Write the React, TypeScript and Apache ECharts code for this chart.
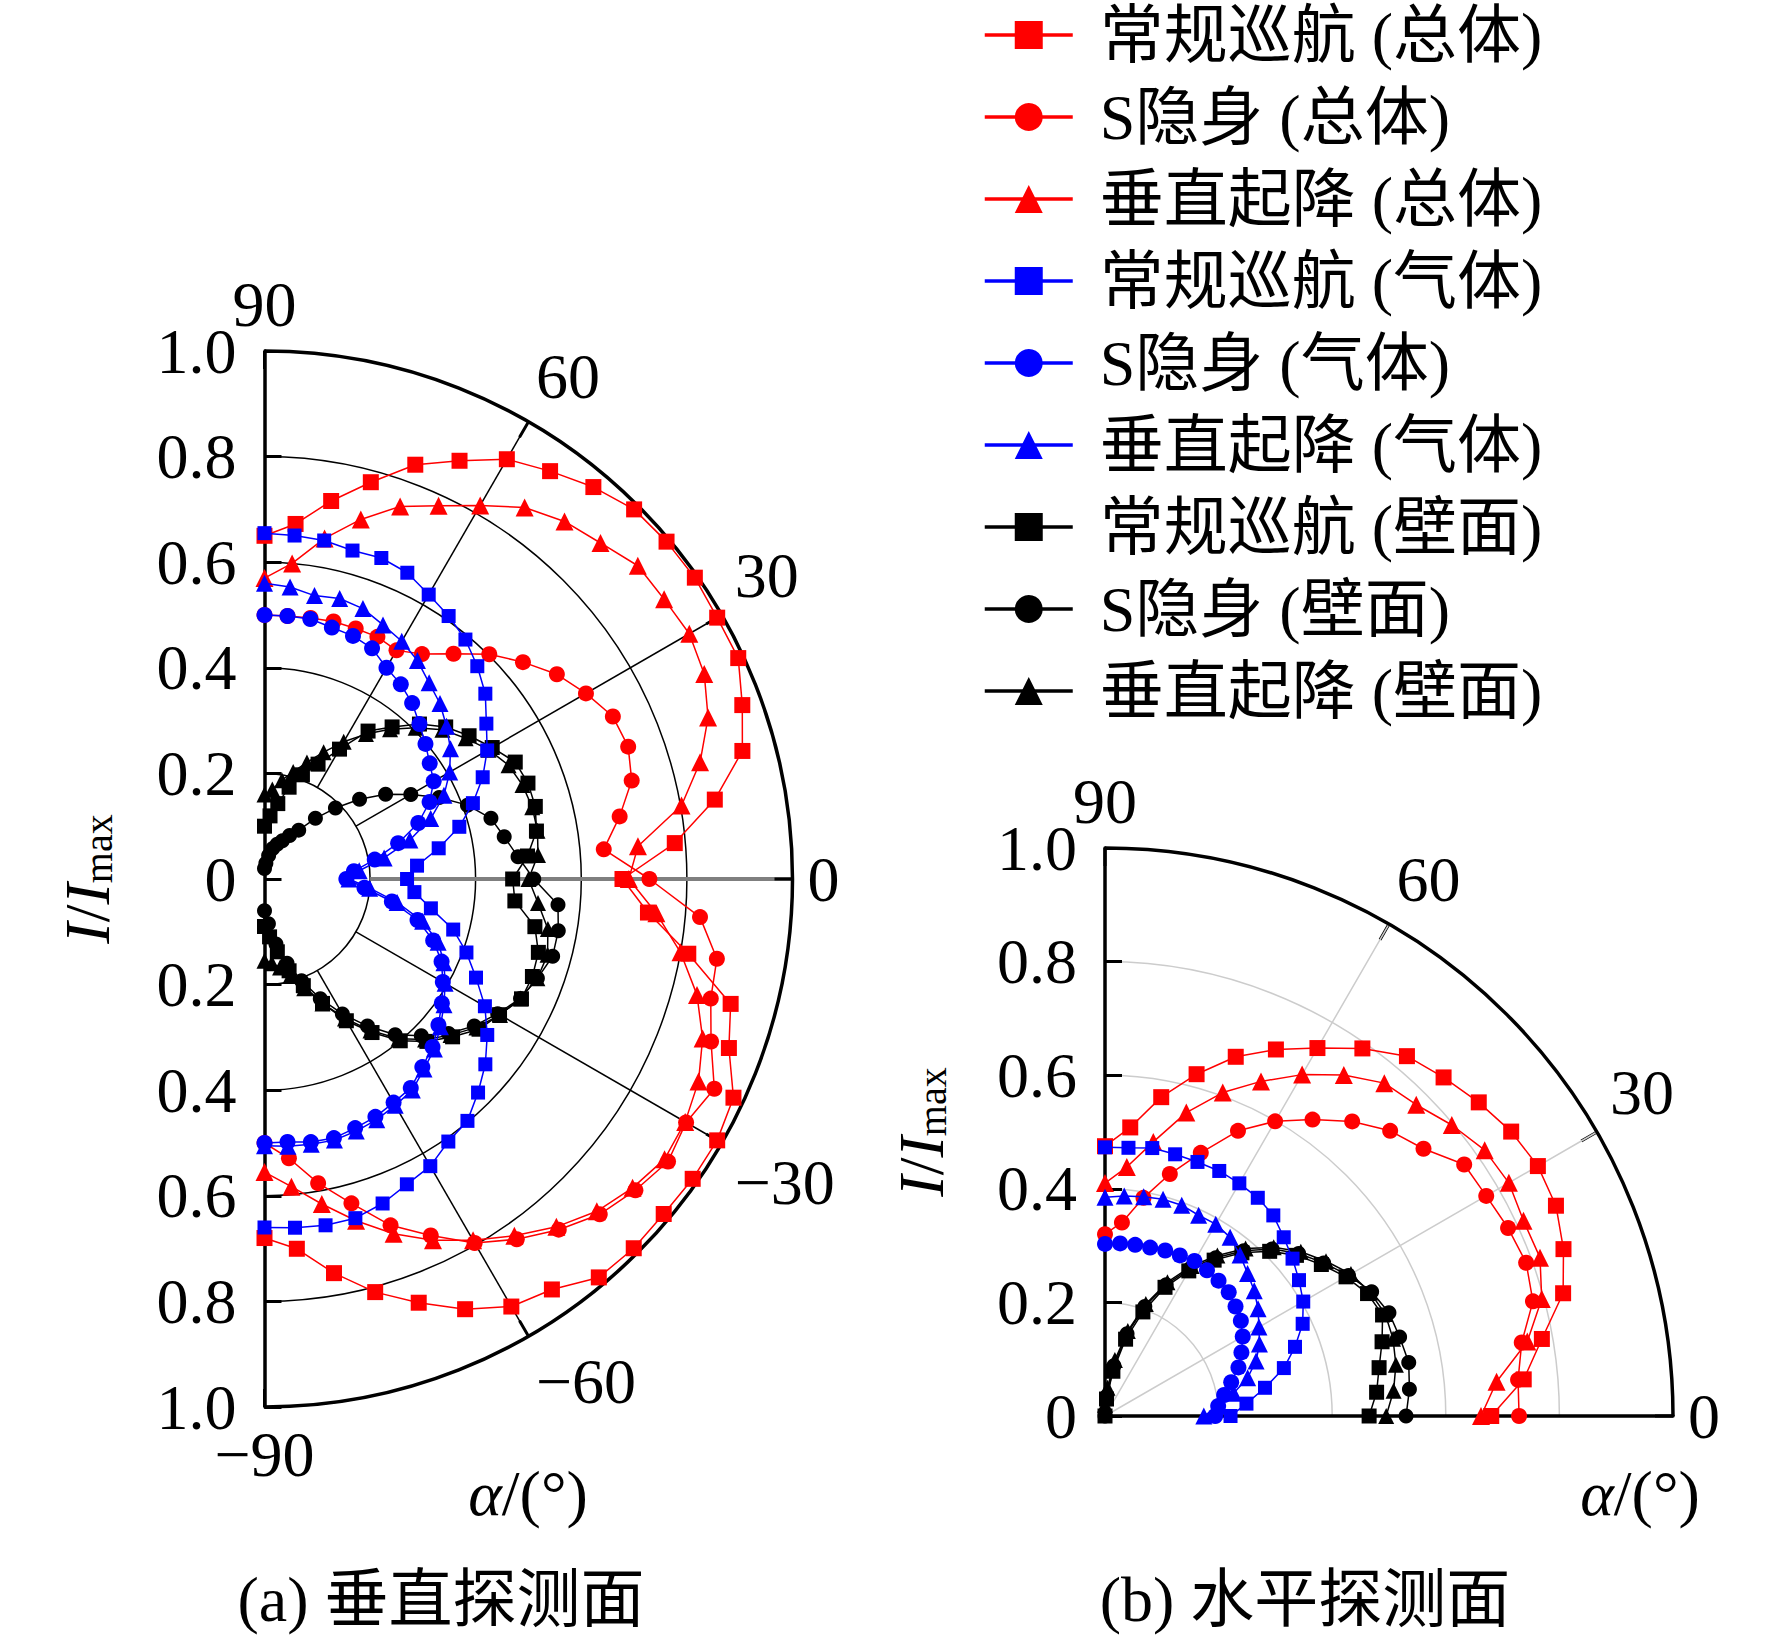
import React, { useEffect, useRef } from 'react';
import * as echarts from 'echarts';

const FF = "'Liberation Serif', 'Times New Roman', 'Noto Sans CJK SC', serif";

// angles (deg)
const anglesV = [90, 85, 80, 75, 70, 65, 60, 55, 50, 45, 40, 35, 30, 25, 20, 15, 10, 5, 0, -5, -10, -15, -20, -25, -30, -35, -40, -45, -50, -55, -60, -65, -70, -75, -80, -85, -90];
const anglesH = [90, 85, 80, 75, 70, 65, 60, 55, 50, 45, 40, 35, 30, 25, 20, 15, 10, 5, 0];

const seriesNames = ['常规巡航 (总体)', 'S隐身 (总体)', '垂直起降 (总体)', '常规巡航 (气体)', 'S隐身 (气体)', '垂直起降 (气体)', '常规巡航 (壁面)', 'S隐身 (壁面)', '垂直起降 (壁面)'];

// (a) vertical plane: I/Imax for anglesV
const vRedSquare = [0.65, 0.675, 0.727, 0.778, 0.835, 0.874, 0.918, 0.943, 0.969, 0.99, 0.994, 0.995, 0.99, 0.99, 0.963, 0.937, 0.866, 0.78, 0.678, 0.729, 0.815, 0.914, 0.936, 0.98, 0.99, 0.99, 0.987, 0.989, 0.985, 0.949, 0.935, 0.899, 0.854, 0.81, 0.758, 0.703, 0.68];
const vRedCircle = [0.5, 0.5, 0.502, 0.505, 0.505, 0.506, 0.5, 0.52, 0.557, 0.602, 0.639, 0.676, 0.703, 0.728, 0.733, 0.72, 0.683, 0.645, 0.729, 0.828, 0.87, 0.875, 0.9, 0.94, 0.922, 0.933, 0.917, 0.898, 0.867, 0.833, 0.796, 0.745, 0.698, 0.636, 0.585, 0.531, 0.5];
const vRedTriangle = [0.57, 0.6, 0.655, 0.705, 0.751, 0.78, 0.817, 0.859, 0.884, 0.9, 0.923, 0.924, 0.929, 0.919, 0.894, 0.854, 0.802, 0.71, 0.69, 0.745, 0.8, 0.848, 0.883, 0.907, 0.92, 0.925, 0.91, 0.89, 0.86, 0.825, 0.79, 0.755, 0.715, 0.67, 0.625, 0.585, 0.555];
const vBlueSquare = [0.655, 0.653, 0.651, 0.644, 0.647, 0.64, 0.622, 0.608, 0.592, 0.57, 0.546, 0.513, 0.487, 0.456, 0.42, 0.382, 0.335, 0.29, 0.27, 0.285, 0.32, 0.37, 0.407, 0.442, 0.482, 0.515, 0.546, 0.572, 0.598, 0.607, 0.628, 0.638, 0.654, 0.665, 0.666, 0.663, 0.66];
const vBlueCircle = [0.5, 0.5, 0.5, 0.493, 0.49, 0.482, 0.462, 0.45, 0.435, 0.415, 0.398, 0.382, 0.37, 0.345, 0.31, 0.262, 0.212, 0.17, 0.155, 0.19, 0.245, 0.3, 0.34, 0.37, 0.39, 0.41, 0.43, 0.45, 0.465, 0.483, 0.489, 0.497, 0.502, 0.508, 0.506, 0.5, 0.5];
const vBlueTriangle = [0.56, 0.555, 0.545, 0.55, 0.545, 0.531, 0.52, 0.505, 0.485, 0.47, 0.45, 0.43, 0.405, 0.375, 0.335, 0.285, 0.23, 0.18, 0.16, 0.2, 0.255, 0.31, 0.35, 0.375, 0.395, 0.415, 0.435, 0.455, 0.47, 0.488, 0.495, 0.503, 0.508, 0.512, 0.51, 0.508, 0.505];
const vBlackSquare = [0.1, 0.12, 0.145, 0.18, 0.21, 0.24, 0.284, 0.342, 0.376, 0.415, 0.448, 0.473, 0.498, 0.524, 0.531, 0.531, 0.523, 0.5, 0.47, 0.476, 0.52, 0.537, 0.54, 0.537, 0.514, 0.496, 0.465, 0.435, 0.4, 0.355, 0.31, 0.26, 0.215, 0.18, 0.14, 0.11, 0.09];
const vBlackCircle = [0.02, 0.03, 0.045, 0.06, 0.07, 0.08, 0.095, 0.113, 0.15, 0.19, 0.235, 0.28, 0.32, 0.365, 0.409, 0.444, 0.461, 0.482, 0.51, 0.558, 0.565, 0.565, 0.55, 0.535, 0.51, 0.485, 0.455, 0.42, 0.385, 0.34, 0.295, 0.25, 0.205, 0.165, 0.125, 0.085, 0.06];
const vBlackTriangle = [0.16, 0.17, 0.19, 0.21, 0.235, 0.265, 0.3, 0.335, 0.37, 0.405, 0.44, 0.465, 0.49, 0.51, 0.52, 0.525, 0.525, 0.52, 0.5, 0.52, 0.545, 0.555, 0.55, 0.535, 0.515, 0.49, 0.46, 0.43, 0.395, 0.35, 0.305, 0.26, 0.22, 0.19, 0.17, 0.16, 0.155];

// (b) horizontal plane: I/Imax for anglesH
const hRedSquare = [0.475, 0.51, 0.57, 0.623, 0.673, 0.712, 0.748, 0.79, 0.827, 0.843, 0.859, 0.873, 0.88, 0.876, 0.859, 0.835, 0.781, 0.74, 0.68];
const hRedCircle = [0.32, 0.342, 0.39, 0.441, 0.493, 0.554, 0.599, 0.637, 0.677, 0.71, 0.732, 0.772, 0.775, 0.783, 0.789, 0.78, 0.745, 0.73, 0.729];
const hRedTriangle = [0.41, 0.44, 0.49, 0.553, 0.606, 0.65, 0.694, 0.733, 0.765, 0.775, 0.797, 0.816, 0.821, 0.813, 0.815, 0.796, 0.755, 0.692, 0.662];
const hBlueSquare = [0.473, 0.474, 0.479, 0.477, 0.476, 0.476, 0.473, 0.469, 0.461, 0.445, 0.431, 0.417, 0.403, 0.384, 0.356, 0.326, 0.286, 0.25, 0.221];
const hBlueCircle = [0.303, 0.305, 0.306, 0.307, 0.31, 0.312, 0.315, 0.313, 0.311, 0.308, 0.3, 0.292, 0.28, 0.265, 0.25, 0.23, 0.213, 0.2, 0.194];
const hBlueTriangle = [0.385, 0.389, 0.392, 0.395, 0.395, 0.39, 0.39, 0.384, 0.37, 0.355, 0.343, 0.329, 0.313, 0.3, 0.283, 0.26, 0.23, 0.2, 0.174];
const hBlackSquare = [0, 0.03, 0.08, 0.14, 0.195, 0.25, 0.295, 0.335, 0.375, 0.41, 0.44, 0.465, 0.49, 0.51, 0.52, 0.505, 0.49, 0.48, 0.465];
const hBlackCircle = [0, 0.035, 0.09, 0.15, 0.205, 0.255, 0.3, 0.34, 0.38, 0.416, 0.445, 0.47, 0.495, 0.518, 0.532, 0.537, 0.543, 0.538, 0.53];
const hBlackTriangle = [0.02, 0.05, 0.1, 0.155, 0.21, 0.26, 0.305, 0.345, 0.385, 0.42, 0.45, 0.475, 0.5, 0.515, 0.525, 0.525, 0.52, 0.51, 0.495];

const vData = [vRedSquare, vRedCircle, vRedTriangle, vBlueSquare, vBlueCircle, vBlueTriangle, vBlackSquare, vBlackCircle, vBlackTriangle];
const hData = [hRedSquare, hRedCircle, hRedTriangle, hBlueSquare, hBlueCircle, hBlueTriangle, hBlackSquare, hBlackCircle, hBlackTriangle];

const seriesStyle = [
  { color: '#ff0000', symbol: 'rect', size: 16, z: 4 },
  { color: '#ff0000', symbol: 'circle', size: 16, z: 4 },
  { color: '#ff0000', symbol: 'triangle', size: 18, z: 4 },
  { color: '#0000ff', symbol: 'rect', size: 14, z: 5 },
  { color: '#0000ff', symbol: 'circle', size: 16, z: 5 },
  { color: '#0000ff', symbol: 'triangle', size: 17, z: 5 },
  { color: '#000000', symbol: 'rect', size: 15, z: 3 },
  { color: '#000000', symbol: 'circle', size: 15, z: 3 },
  { color: '#000000', symbol: 'triangle', size: 16, z: 3 },
];

const minusFmt = (v: number) => (v < 0 ? '\u2212' + Math.abs(v) : String(v));
const radFmt = (v: number) => (Math.abs(v) < 1e-9 ? '0' : Math.abs(v).toFixed(1));

const LC = [264.5, 879];
const LR = 528;
const RC = [1105, 1416];
const RR = 568;

export default function App() {
  const ref = useRef<HTMLDivElement>(null);
  useEffect(() => {
    document.body.style.margin = '0';
    if (!ref.current) return;
    const chart = echarts.init(ref.current, null, { renderer: 'svg' });

    const hidden = { axisLine: { show: false }, axisTick: { show: false }, axisLabel: { show: false }, splitLine: { show: false } };
    const labelStyle = { show: true, margin: 15, fontSize: 64, color: '#000', fontFamily: FF, formatter: minusFmt };
    const nameRich = {
      i: { fontStyle: 'italic', fontSize: 64, fontFamily: FF, color: '#000' },
      s: { fontSize: 40, fontFamily: FF, color: '#000', padding: [22, 0, 0, 0] },
    };

    const series: any[] = [];
    vData.forEach((arr, i) => {
      const st = seriesStyle[i];
      series.push({
        type: 'line', name: seriesNames[i], coordinateSystem: 'polar', polarIndex: 2,
        data: arr.map((r, k) => [r, anglesV[k]]),
        symbol: st.symbol, symbolSize: st.size, z: st.z, clip: false,
        itemStyle: { color: st.color }, lineStyle: { color: st.color, width: 1.5 },
      });
    });
    hData.forEach((arr, i) => {
      const st = seriesStyle[i];
      series.push({
        type: 'line', name: seriesNames[i], coordinateSystem: 'polar', polarIndex: 3,
        data: arr.map((r, k) => [r, anglesH[k]]),
        symbol: st.symbol, symbolSize: st.size, z: st.z, clip: false,
        itemStyle: { color: st.color }, lineStyle: { color: st.color, width: 1.5 },
      });
    });

    const option: any = {
      animation: false,
      backgroundColor: '#ffffff',
      textStyle: { fontFamily: FF },
      legend: {
        data: seriesNames, orient: 'vertical', left: 983, top: 3, padding: 0,
        itemWidth: 88, itemHeight: 35, itemGap: 18, selectedMode: false,
        lineStyle: { width: 3.5 },
        textStyle: { fontSize: 64, fontFamily: FF, color: '#000', lineHeight: 64, padding: [0, 0, 0, 22] },
      },
      polar: [
        { center: LC, radius: [LR * 0.2, LR] },
        { center: LC, radius: [LR * 0.2, LR] },
        { center: LC, radius: [0, LR] },
        { center: RC, radius: [0, RR] },
      ],
      angleAxis: [
        {
          polarIndex: 0, type: 'value', min: -90, max: 90, interval: 30, startAngle: -90, endAngle: 90, clockwise: false,
          axisLine: { show: false }, axisTick: { show: false }, axisLabel: { show: false },
          splitLine: { show: true, lineStyle: { color: ['rgba(0,0,0,0)', '#000', '#000', 'rgba(0,0,0,0)', '#000', '#000', 'rgba(0,0,0,0)'], width: 1.5 } },
        },
        {
          polarIndex: 1, type: 'value', min: -90, max: 90, interval: 90, startAngle: -90, endAngle: 90, clockwise: false,
          axisLine: { show: false }, axisTick: { show: false }, axisLabel: { show: false },
          splitLine: { show: true, lineStyle: { color: ['rgba(0,0,0,0)', '#7f7f7f', 'rgba(0,0,0,0)'], width: 4 } },
        },
        {
          polarIndex: 2, type: 'value', min: -90, max: 90, interval: 30, startAngle: -90, endAngle: 90, clockwise: false,
          axisLine: { show: true, lineStyle: { color: '#000', width: 3.5 } },
          axisTick: { show: true, inside: true, length: 18, lineStyle: { color: '#000', width: 3 } },
          axisLabel: labelStyle,
          splitLine: { show: false },
        },
        {
          polarIndex: 3, type: 'value', min: 0, max: 90, interval: 30, startAngle: 0, endAngle: 90, clockwise: false,
          axisLine: { show: true, lineStyle: { color: '#000', width: 3.5 } },
          axisTick: { show: true, inside: true, length: 18, lineStyle: { color: '#000', width: 3 } },
          axisLabel: labelStyle,
          splitLine: { show: true, lineStyle: { color: '#cccccc', width: 1.5 } },
        },
      ],
      radiusAxis: [
        { polarIndex: 0, type: 'value', min: 0.2, max: 1, interval: 0.2, axisLine: { show: false }, axisTick: { show: false }, axisLabel: { show: false }, splitLine: { show: true, lineStyle: { color: '#000', width: 1.5 } } },
        { polarIndex: 1, type: 'value', min: 0.2, max: 1, ...hidden },
        { polarIndex: 2, type: 'value', min: 0, max: 1, ...hidden },
        { polarIndex: 3, type: 'value', min: 0, max: 1, interval: 0.2, axisLine: { show: true, lineStyle: { color: '#000', width: 3.5 } }, axisTick: { show: false }, axisLabel: { show: false }, splitLine: { show: true, lineStyle: { color: '#cccccc', width: 1.5 } } },
      ],
      grid: [
        { left: LC[0], top: LC[1] - LR, width: 200, height: 2 * LR, show: false, containLabel: false, outerBoundsMode: 'none' },
        { left: RC[0], top: RC[1] - RR, width: 200, height: RR, show: false, containLabel: false, outerBoundsMode: 'none' },
      ],
      xAxis: [
        { gridIndex: 0, type: 'value', min: 0, max: 1, show: false },
        { gridIndex: 1, type: 'value', min: 0, max: 1, show: false },
      ],
      yAxis: [
        {
          gridIndex: 0, type: 'value', min: -1, max: 1, interval: 0.2, position: 'left',
          axisLine: { show: true, onZero: false, lineStyle: { color: '#000', width: 3.5 } },
          axisTick: { show: true, inside: true, length: 17, lineStyle: { color: '#000', width: 3 } },
          axisLabel: { margin: 28, fontSize: 64, color: '#000', fontFamily: FF, formatter: radFmt },
          splitLine: { show: false },
          name: '{i|I}/{i|I}{s|max}', nameLocation: 'middle', nameGap: 145, nameRotate: 90,
          nameTextStyle: { fontSize: 64, fontFamily: FF, color: '#000', rich: nameRich },
        },
        {
          gridIndex: 1, type: 'value', min: 0, max: 1, interval: 0.2, position: 'left',
          axisLine: { show: true, onZero: false, lineStyle: { color: '#000', width: 3.5 } },
          axisTick: { show: true, inside: true, length: 17, lineStyle: { color: '#000', width: 3 } },
          axisLabel: { margin: 28, fontSize: 64, color: '#000', fontFamily: FF, formatter: radFmt },
          splitLine: { show: false },
          name: '{i|I}/{i|I}{s|max}', nameLocation: 'middle', nameGap: 152, nameRotate: 90,
          nameTextStyle: { fontSize: 64, fontFamily: FF, color: '#000', rich: nameRich },
        },
      ],
      graphic: [
        { type: 'text', x: 528, y: 1493, style: { text: '{a|α}/(°)', fontSize: 64, fontFamily: FF, fill: '#000', align: 'center', verticalAlign: 'middle', textAlign: 'center', textVerticalAlign: 'middle', rich: { a: { fontStyle: 'italic', fontSize: 64, fontFamily: FF } } } },
        { type: 'text', x: 1640, y: 1493, style: { text: '{a|α}/(°)', fontSize: 64, fontFamily: FF, fill: '#000', align: 'center', verticalAlign: 'middle', textAlign: 'center', textVerticalAlign: 'middle', rich: { a: { fontStyle: 'italic', fontSize: 64, fontFamily: FF } } } },
        { type: 'text', x: 441, y: 1599, style: { text: '(a) 垂直探测面', fontSize: 64, fontFamily: FF, fill: '#000', align: 'center', verticalAlign: 'middle', textAlign: 'center', textVerticalAlign: 'middle' } },
        { type: 'text', x: 1305, y: 1599, style: { text: '(b) 水平探测面', fontSize: 64, fontFamily: FF, fill: '#000', align: 'center', verticalAlign: 'middle', textAlign: 'center', textVerticalAlign: 'middle' } },
      ],
      series,
    };
    chart.setOption(option);
    return () => chart.dispose();
  }, []);
  return <div ref={ref} style={{ width: 1772, height: 1642 }} />;
}
